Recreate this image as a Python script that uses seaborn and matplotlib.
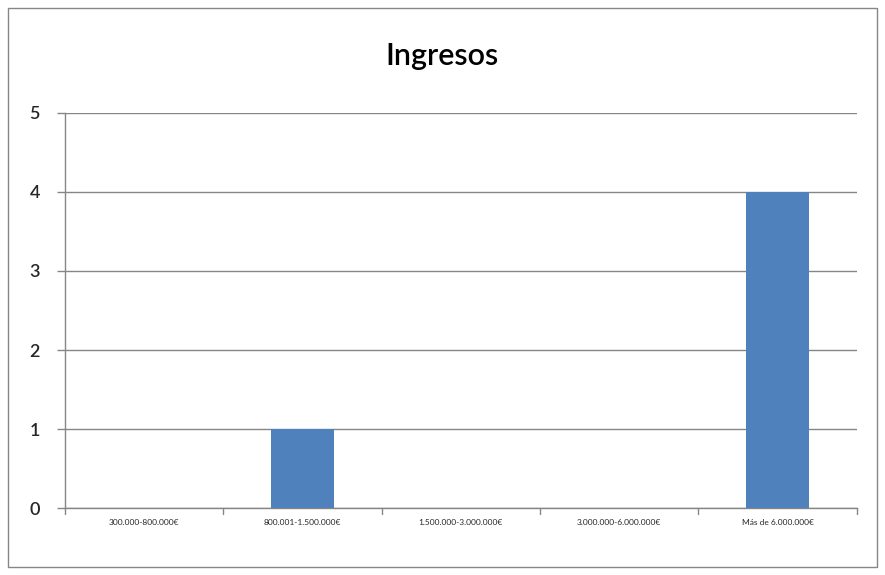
import matplotlib
matplotlib.use("Agg")
import matplotlib.pyplot as plt
import seaborn as sns
import pandas as pd
from matplotlib.patches import Rectangle

categories = ["300.000-800.000€", "800.001-1.500.000€", "1.500.000-3.000.000€",
              "3.000.000-6.000.000€", "Más de 6.000.000€"]
values = [0, 1, 0, 0, 4]
yticks = [0, 1, 2, 3, 4, 5]

sns.set_theme(style="white")
plt.rcParams['font.family'] = ['Lato', 'DejaVu Sans']

df = pd.DataFrame({"cat": categories, "val": values})

fig = plt.figure(figsize=(8.85, 5.75), dpi=100)
ax = fig.add_axes([0.0734, 0.1165, 0.8946, 0.687])

sns.barplot(data=df, x="cat", y="val", color="#4F81BD", width=0.4,
            saturation=1, ax=ax, zorder=3, edgecolor="#4F81BD", linewidth=0)

ax.set_ylim(0, 5)
ax.set_xlim(-0.5, len(categories) - 0.5)
ax.set_yticks(yticks)
ax.set_yticklabels([str(t) for t in yticks], fontsize=13, fontweight="semibold")
ax.set_xticks(range(len(categories)))
ax.set_xticklabels(categories, fontsize=6)
ax.tick_params(axis='x', length=0, pad=8)
ax.tick_params(axis='y', length=6, width=1, color="#868686", direction='out', pad=12, left=True)
ax.yaxis.grid(True, color="#868686", linewidth=1, zorder=0)
ax.xaxis.grid(False)
for b in [i + 0.5 for i in range(-1, len(categories))]:
    ax.plot([b, b], [0, -0.08], color="#868686", lw=1, clip_on=False, transform=ax.transData)
ax.set_xlabel("")
ax.set_ylabel("")
for s in ["top", "right"]:
    ax.spines[s].set_visible(False)
for s in ["left", "bottom"]:
    ax.spines[s].set_color("#868686")
    ax.spines[s].set_linewidth(1)

fig.text(0.5, 0.902, "Ingresos", ha="center", va="center", fontsize=22,
         fontweight="semibold", color="black")
fig.patches.append(Rectangle((0.009, 0.014), 0.982, 0.972, transform=fig.transFigure,
                             fill=False, edgecolor="#868686", linewidth=1))

fig.savefig("out.png", dpi=100)
